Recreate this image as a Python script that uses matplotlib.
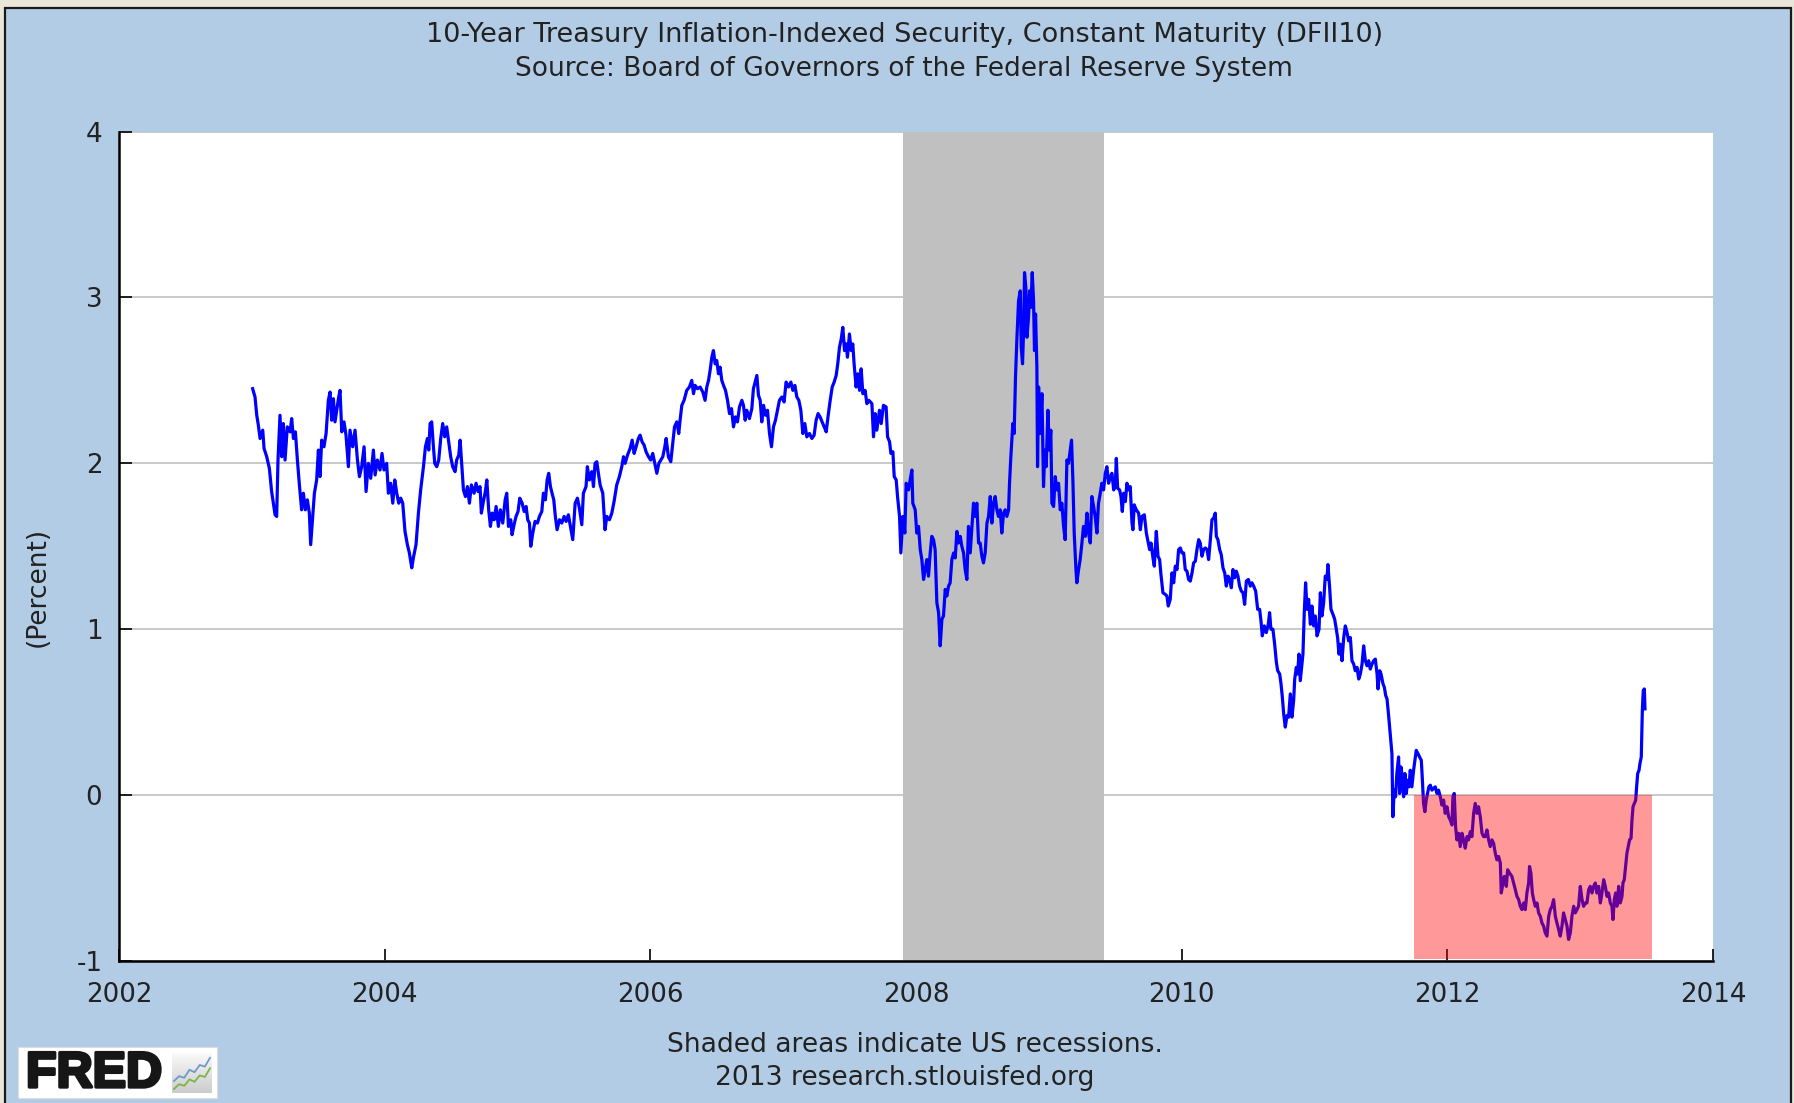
import matplotlib
matplotlib.use("Agg")
import matplotlib.pyplot as plt
import matplotlib.patheffects as pe
from matplotlib.patches import Rectangle
import numpy as np

# DFII10 (decimal year, percent)
dates_2003 = [
    2003.006, 2003.024, 2003.037, 2003.049, 2003.062, 2003.082, 2003.092, 2003.112, 2003.132, 2003.149,
    2003.162, 2003.175, 2003.187, 2003.197, 2003.212, 2003.225, 2003.237, 2003.250, 2003.267, 2003.288,
    2003.300, 2003.313, 2003.328, 2003.343, 2003.358, 2003.375, 2003.388, 2003.403, 2003.418, 2003.433,
    2003.443, 2003.458, 2003.471, 2003.488, 2003.501, 2003.513, 2003.526, 2003.543, 2003.559, 2003.576,
    2003.589, 2003.601, 2003.614, 2003.626, 2003.639, 2003.654, 2003.664, 2003.677, 2003.694, 2003.709,
    2003.727, 2003.739, 2003.759, 2003.777, 2003.795, 2003.810, 2003.827, 2003.845, 2003.860, 2003.877,
    2003.895, 2003.915, 2003.928, 2003.945, 2003.965, 2003.980, 2003.995, 2004.015, 2004.028, 2004.045,
    2004.061, 2004.076, 2004.091, 2004.106, 2004.121, 2004.136, 2004.153, 2004.171, 2004.186, 2004.204,
    2004.216, 2004.236, 2004.254, 2004.271, 2004.292, 2004.307, 2004.322, 2004.332, 2004.342, 2004.354,
    2004.367, 2004.377, 2004.392, 2004.407, 2004.422, 2004.437, 2004.452, 2004.467, 2004.482, 2004.497,
    2004.512, 2004.530, 2004.542, 2004.558, 2004.568, 2004.580, 2004.593, 2004.608, 2004.623, 2004.638,
    2004.653, 2004.673, 2004.688, 2004.703, 2004.718, 2004.728, 2004.743, 2004.758, 2004.769, 2004.783,
    2004.796, 2004.809, 2004.824, 2004.839, 2004.856, 2004.871, 2004.889, 2004.907, 2004.919, 2004.932,
    2004.949, 2004.959, 2004.974, 2004.989, 2005.004, 2005.017, 2005.035, 2005.050, 2005.065, 2005.077,
    2005.090, 2005.100, 2005.115, 2005.132, 2005.150, 2005.165, 2005.183, 2005.195, 2005.210, 2005.223,
    2005.235, 2005.248, 2005.260, 2005.273, 2005.285, 2005.298,
]
dfii10_2003 = [
    2.45, 2.40, 2.29, 2.23, 2.15, 2.20, 2.09, 2.04, 1.97, 1.83,
    1.76, 1.69, 1.68, 2.02, 2.29, 2.04, 2.24, 2.02, 2.22, 2.19,
    2.27, 2.15, 2.19, 2.02, 1.87, 1.72, 1.82, 1.72, 1.78, 1.70,
    1.51, 1.68, 1.82, 1.90, 2.08, 1.92, 2.14, 2.10, 2.18, 2.38,
    2.43, 2.26, 2.39, 2.25, 2.32, 2.40, 2.44, 2.19, 2.25, 2.17,
    1.98, 2.20, 2.10, 2.20, 2.02, 1.92, 1.98, 2.10, 1.83, 2.00,
    1.91, 2.08, 1.93, 2.02, 1.96, 2.06, 1.96, 2.00, 1.82, 1.88,
    1.76, 1.90, 1.82, 1.76, 1.79, 1.76, 1.59, 1.51, 1.46, 1.37,
    1.43, 1.51, 1.70, 1.84, 1.98, 2.10, 2.15, 2.08, 2.24, 2.25,
    2.10, 2.00, 1.98, 2.02, 2.15, 2.24, 2.16, 2.22, 2.13, 2.04,
    1.98, 1.95, 2.02, 2.05, 2.14, 2.00, 1.84, 1.80, 1.86, 1.76,
    1.87, 1.82, 1.88, 1.83, 1.86, 1.70, 1.77, 1.83, 1.90, 1.72,
    1.62, 1.70, 1.66, 1.74, 1.62, 1.72, 1.64, 1.78, 1.82, 1.62,
    1.66, 1.57, 1.63, 1.68, 1.71, 1.79, 1.76, 1.71, 1.74, 1.66,
    1.64, 1.50, 1.58, 1.65, 1.64, 1.68, 1.71, 1.82, 1.78, 1.90,
    1.94, 1.86, 1.82, 1.78, 1.68, 1.60,
]

dates_2005 = [
    2005.316, 2005.333, 2005.351, 2005.366, 2005.383, 2005.401, 2005.416, 2005.434, 2005.451, 2005.466,
    2005.484, 2005.496, 2005.516, 2005.526, 2005.541, 2005.559, 2005.572, 2005.584, 2005.597, 2005.609,
    2005.622, 2005.642, 2005.659, 2005.672, 2005.692, 2005.710, 2005.727, 2005.747, 2005.767, 2005.785,
    2005.798, 2005.810, 2005.828, 2005.848, 2005.863, 2005.878, 2005.893, 2005.910, 2005.923, 2005.938,
    2005.953, 2005.968, 2005.986, 2006.003, 2006.018, 2006.036, 2006.049, 2006.064, 2006.079, 2006.094,
    2006.109, 2006.119, 2006.136, 2006.154, 2006.169, 2006.182, 2006.199, 2006.214, 2006.224, 2006.237,
    2006.254, 2006.274, 2006.294, 2006.312, 2006.325, 2006.337, 2006.355, 2006.375, 2006.395, 2006.412,
    2006.425, 2006.438, 2006.450, 2006.463, 2006.475, 2006.488, 2006.500, 2006.513, 2006.525, 2006.538,
    2006.551, 2006.566, 2006.581, 2006.596, 2006.611, 2006.626, 2006.641, 2006.656, 2006.671, 2006.689,
    2006.701, 2006.714, 2006.726, 2006.746, 2006.764, 2006.776, 2006.789, 2006.802, 2006.814, 2006.827,
    2006.839, 2006.852, 2006.867, 2006.882, 2006.897, 2006.912, 2006.927, 2006.942, 2006.957, 2006.972,
    2006.990, 2007.007, 2007.022, 2007.040, 2007.058, 2007.073, 2007.088, 2007.103, 2007.118, 2007.133,
    2007.148, 2007.163, 2007.178, 2007.198, 2007.216, 2007.233, 2007.248, 2007.263, 2007.278, 2007.293,
    2007.309, 2007.324, 2007.339, 2007.354, 2007.369, 2007.384, 2007.399, 2007.411, 2007.424, 2007.437,
    2007.449, 2007.462, 2007.474, 2007.484, 2007.499, 2007.512, 2007.524, 2007.534, 2007.549, 2007.562,
    2007.575, 2007.587, 2007.600, 2007.617, 2007.630, 2007.645,
]
dfii10_2005 = [
    1.66, 1.64, 1.68, 1.65, 1.69, 1.61, 1.54, 1.76, 1.79, 1.73,
    1.63, 1.82, 1.86, 1.98, 1.90, 1.95, 1.86, 2.00, 2.01, 1.94,
    1.87, 1.82, 1.60, 1.68, 1.66, 1.70, 1.77, 1.87, 1.92, 1.98,
    2.04, 2.00, 2.05, 2.09, 2.14, 2.06, 2.10, 2.15, 2.17, 2.13,
    2.11, 2.07, 2.04, 2.02, 2.06, 1.99, 1.94, 2.00, 2.02, 2.04,
    2.10, 2.15, 2.04, 2.01, 2.12, 2.22, 2.25, 2.18, 2.26, 2.35,
    2.38, 2.44, 2.46, 2.50, 2.42, 2.47, 2.45, 2.46, 2.43, 2.38,
    2.46, 2.50, 2.56, 2.64, 2.68, 2.60, 2.62, 2.54, 2.58, 2.50,
    2.47, 2.44, 2.38, 2.30, 2.33, 2.22, 2.28, 2.25, 2.34, 2.38,
    2.35, 2.26, 2.32, 2.27, 2.33, 2.45, 2.49, 2.53, 2.41, 2.38,
    2.25, 2.35, 2.29, 2.32, 2.18, 2.10, 2.22, 2.26, 2.32, 2.38,
    2.40, 2.37, 2.49, 2.46, 2.49, 2.44, 2.47, 2.40, 2.38, 2.32,
    2.18, 2.24, 2.16, 2.18, 2.15, 2.17, 2.26, 2.30, 2.28, 2.25,
    2.22, 2.19, 2.29, 2.38, 2.46, 2.49, 2.53, 2.60, 2.70, 2.75,
    2.82, 2.68, 2.72, 2.64, 2.78, 2.68, 2.72, 2.60, 2.46, 2.54,
    2.44, 2.57, 2.42, 2.44, 2.36, 2.38,
]

dates_2007 = [
    2007.668, 2007.680, 2007.693, 2007.705, 2007.725, 2007.738, 2007.755, 2007.775, 2007.786, 2007.801,
    2007.811, 2007.826, 2007.836, 2007.851, 2007.861, 2007.876, 2007.886, 2007.901, 2007.916, 2007.926,
    2007.944, 2007.956, 2007.969, 2007.976, 2007.994, 2008.006, 2008.019, 2008.032, 2008.044, 2008.057,
    2008.069, 2008.082, 2008.094, 2008.107, 2008.119, 2008.132, 2008.144, 2008.157, 2008.170, 2008.182,
    2008.195, 2008.207, 2008.220, 2008.232, 2008.245, 2008.257, 2008.270, 2008.283, 2008.295, 2008.308,
    2008.320, 2008.333, 2008.345, 2008.358, 2008.370, 2008.383, 2008.395, 2008.408, 2008.421, 2008.433,
    2008.446, 2008.458, 2008.471, 2008.483, 2008.496, 2008.508, 2008.521, 2008.534, 2008.546, 2008.559,
    2008.571, 2008.584, 2008.596, 2008.609, 2008.621, 2008.634, 2008.646, 2008.659, 2008.672, 2008.684,
    2008.697, 2008.704, 2008.714, 2008.729, 2008.739, 2008.749, 2008.759, 2008.772, 2008.785, 2008.792,
    2008.802, 2008.810, 2008.817, 2008.827, 2008.835, 2008.847, 2008.855, 2008.865, 2008.875, 2008.885,
    2008.892, 2008.900, 2008.910, 2008.915, 2008.923, 2008.935, 2008.948, 2008.960, 2008.970, 2008.980,
    2008.993, 2009.003, 2009.015, 2009.023, 2009.036, 2009.048, 2009.061, 2009.073, 2009.086, 2009.098,
    2009.111, 2009.123, 2009.136, 2009.148, 2009.161, 2009.171, 2009.181, 2009.191, 2009.204, 2009.211,
    2009.224, 2009.236, 2009.249, 2009.261, 2009.274, 2009.287, 2009.299, 2009.312, 2009.324, 2009.337,
    2009.349, 2009.362, 2009.374, 2009.387, 2009.399, 2009.412, 2009.425, 2009.437, 2009.450,
]
dfii10_2007 = [
    2.36, 2.16, 2.30, 2.20, 2.32, 2.24, 2.35, 2.34, 2.16, 2.13,
    2.06, 2.07, 1.92, 1.90, 1.80, 1.68, 1.46, 1.68, 1.58, 1.88,
    1.84, 1.90, 1.96, 1.76, 1.72, 1.58, 1.62, 1.48, 1.42, 1.30,
    1.36, 1.42, 1.32, 1.46, 1.56, 1.54, 1.48, 1.16, 1.10, 0.90,
    1.06, 1.08, 1.24, 1.20, 1.26, 1.28, 1.42, 1.46, 1.43, 1.59,
    1.52, 1.56, 1.50, 1.46, 1.36, 1.30, 1.62, 1.46, 1.62, 1.76,
    1.68, 1.76, 1.52, 1.52, 1.44, 1.40, 1.46, 1.64, 1.68, 1.80,
    1.64, 1.76, 1.80, 1.72, 1.68, 1.72, 1.58, 1.70, 1.72, 1.68,
    1.72, 1.88, 2.04, 2.24, 2.18, 2.52, 2.74, 2.98, 3.04, 2.70,
    2.60, 2.80, 3.15, 3.06, 2.76, 2.88, 3.04, 2.94, 3.15, 2.98,
    2.68, 2.90, 2.58, 1.98, 2.46, 2.18, 2.42, 1.86, 2.08, 1.98,
    2.32, 2.08, 2.20, 1.76, 1.74, 1.92, 1.84, 1.88, 1.72, 1.76,
    1.62, 1.54, 2.02, 2.00, 2.08, 2.14, 1.90, 1.58, 1.36, 1.28,
    1.36, 1.42, 1.52, 1.62, 1.56, 1.70, 1.58, 1.52, 1.80, 1.74,
    1.68, 1.58, 1.76, 1.82, 1.88, 1.84, 1.94, 1.98, 1.88,
]

dates_2009 = [
    2009.463, 2009.475, 2009.488, 2009.500, 2009.508, 2009.518, 2009.533, 2009.543, 2009.553, 2009.563,
    2009.576, 2009.588, 2009.601, 2009.613, 2009.626, 2009.633, 2009.643, 2009.658, 2009.676, 2009.689,
    2009.701, 2009.719, 2009.734, 2009.744, 2009.759, 2009.769, 2009.784, 2009.794, 2009.809, 2009.822,
    2009.834, 2009.844, 2009.859, 2009.877, 2009.889, 2009.899, 2009.914, 2009.927, 2009.940, 2009.952,
    2009.965, 2009.977, 2009.990, 2010.002, 2010.015, 2010.027, 2010.040, 2010.052, 2010.065, 2010.078,
    2010.090, 2010.103, 2010.115, 2010.128, 2010.140, 2010.153, 2010.165, 2010.178, 2010.191, 2010.203,
    2010.216, 2010.228, 2010.241, 2010.253, 2010.261, 2010.273, 2010.286, 2010.298, 2010.311, 2010.324,
    2010.336, 2010.349, 2010.361, 2010.374, 2010.386, 2010.399, 2010.411, 2010.424, 2010.436, 2010.449,
    2010.462, 2010.474, 2010.487, 2010.502, 2010.517, 2010.529, 2010.542, 2010.557, 2010.572, 2010.587,
    2010.597, 2010.607, 2010.622, 2010.637, 2010.652, 2010.662, 2010.672, 2010.687, 2010.700, 2010.713,
    2010.723, 2010.738, 2010.748, 2010.758, 2010.768, 2010.780, 2010.793, 2010.805, 2010.818, 2010.830,
    2010.843, 2010.851, 2010.863, 2010.873, 2010.883, 2010.893, 2010.903, 2010.913, 2010.923, 2010.933,
    2010.944, 2010.956, 2010.969, 2010.981, 2010.994, 2011.006, 2011.019, 2011.034, 2011.044, 2011.056,
    2011.069, 2011.081, 2011.094, 2011.101, 2011.114, 2011.124, 2011.139, 2011.152, 2011.164, 2011.174,
    2011.184, 2011.194, 2011.207, 2011.220, 2011.232, 2011.245, 2011.257, 2011.270, 2011.282, 2011.295,
    2011.307, 2011.320, 2011.333, 2011.345, 2011.358, 2011.370, 2011.383, 2011.395, 2011.408, 2011.420,
    2011.433, 2011.445, 2011.458, 2011.471, 2011.478, 2011.491, 2011.501, 2011.516, 2011.526, 2011.536,
    2011.546, 2011.559, 2011.571,
]
dfii10_2009 = [
    1.92, 1.94, 1.84, 1.86, 2.03, 1.85, 1.84, 1.80, 1.71, 1.82,
    1.77, 1.88, 1.84, 1.86, 1.64, 1.60, 1.75, 1.72, 1.70, 1.60,
    1.68, 1.69, 1.58, 1.54, 1.48, 1.52, 1.43, 1.38, 1.59, 1.44,
    1.42, 1.33, 1.22, 1.21, 1.20, 1.14, 1.18, 1.34, 1.28, 1.38,
    1.36, 1.48, 1.49, 1.46, 1.46, 1.36, 1.35, 1.30, 1.29, 1.34,
    1.40, 1.41, 1.48, 1.54, 1.52, 1.44, 1.48, 1.49, 1.48, 1.42,
    1.54, 1.66, 1.67, 1.70, 1.56, 1.54, 1.48, 1.45, 1.37, 1.34,
    1.26, 1.32, 1.30, 1.25, 1.36, 1.31, 1.35, 1.32, 1.26, 1.23,
    1.22, 1.15, 1.29, 1.30, 1.26, 1.28, 1.26, 1.23, 1.12, 1.12,
    1.05, 0.96, 1.02, 0.98, 1.03, 1.10, 1.00, 1.00, 0.91, 0.80,
    0.75, 0.73, 0.67, 0.59, 0.49, 0.41, 0.48, 0.47, 0.61, 0.47,
    0.57, 0.70, 0.77, 0.73, 0.85, 0.69, 0.77, 0.85, 1.10, 1.28,
    1.12, 1.18, 1.03, 1.14, 1.02, 1.08, 0.96, 1.00, 1.22, 1.08,
    1.16, 1.32, 1.30, 1.39, 1.25, 1.12, 1.09, 1.06, 1.00, 0.95,
    0.85, 0.91, 0.81, 0.95, 1.02, 0.98, 0.93, 0.95, 0.81, 0.79,
    0.75, 0.77, 0.70, 0.73, 0.79, 0.90, 0.81, 0.78, 0.81, 0.76,
    0.79, 0.81, 0.82, 0.73, 0.64, 0.75, 0.73, 0.67, 0.65, 0.60,
    0.58, 0.47, 0.36,
]

dates_2011 = [
    2011.583, 2011.590, 2011.600, 2011.610, 2011.620, 2011.633, 2011.641, 2011.651, 2011.661, 2011.671,
    2011.681, 2011.691, 2011.701, 2011.711, 2011.721, 2011.733, 2011.746, 2011.766, 2011.779, 2011.791,
    2011.804, 2011.811, 2011.821, 2011.831, 2011.841, 2011.851, 2011.861, 2011.872, 2011.884, 2011.897,
    2011.909, 2011.922, 2011.934, 2011.947, 2011.959, 2011.972, 2011.984, 2011.997, 2012.010, 2012.022,
    2012.035, 2012.042, 2012.052, 2012.062, 2012.072, 2012.085, 2012.097, 2012.110, 2012.122, 2012.135,
    2012.148, 2012.160, 2012.173, 2012.185, 2012.198, 2012.210, 2012.223, 2012.235, 2012.248, 2012.261,
    2012.273, 2012.286, 2012.298, 2012.311, 2012.323, 2012.336, 2012.348, 2012.361, 2012.373, 2012.386,
    2012.399, 2012.406, 2012.419, 2012.429, 2012.444, 2012.454, 2012.469, 2012.486, 2012.499, 2012.512,
    2012.524, 2012.537, 2012.549, 2012.562, 2012.574, 2012.587, 2012.599, 2012.612, 2012.619, 2012.629,
    2012.640, 2012.650, 2012.662, 2012.675, 2012.687, 2012.700, 2012.712, 2012.725, 2012.737, 2012.750,
    2012.763, 2012.775, 2012.788, 2012.800, 2012.813, 2012.825, 2012.838, 2012.850, 2012.863, 2012.875,
    2012.888, 2012.901, 2012.913, 2012.926, 2012.938, 2012.951, 2012.963, 2012.976, 2012.988, 2013.001,
    2013.014, 2013.026, 2013.039, 2013.051, 2013.064, 2013.076, 2013.089, 2013.101, 2013.114, 2013.126,
    2013.139, 2013.152, 2013.164, 2013.177, 2013.189, 2013.202, 2013.214, 2013.227, 2013.239, 2013.247,
    2013.257, 2013.267, 2013.277, 2013.290, 2013.302, 2013.315, 2013.322, 2013.332, 2013.342, 2013.352,
    2013.362, 2013.372, 2013.383, 2013.390, 2013.398, 2013.408, 2013.418, 2013.425, 2013.433, 2013.443,
    2013.450, 2013.460, 2013.468, 2013.475, 2013.483, 2013.488,
]
dfii10_2011 = [
    0.25, -0.13, 0.03, -0.01, 0.13, 0.23, 0.01, 0.17, 0.11, -0.01,
    0.13, 0.01, 0.09, 0.05, 0.15, 0.05, 0.15, 0.27, 0.25, 0.23,
    0.21, 0.11, -0.05, -0.10, -0.03, 0.01, 0.05, 0.06, 0.03, 0.04,
    0.05, 0.01, 0.03, -0.01, -0.06, -0.03, -0.11, -0.07, -0.13, -0.15,
    -0.18, -0.01, 0.01, -0.19, -0.27, -0.23, -0.31, -0.23, -0.27, -0.32,
    -0.25, -0.27, -0.22, -0.25, -0.11, -0.05, -0.11, -0.07, -0.13, -0.23,
    -0.25, -0.25, -0.21, -0.27, -0.31, -0.27, -0.29, -0.35, -0.39, -0.37,
    -0.41, -0.59, -0.53, -0.49, -0.55, -0.45, -0.47, -0.49, -0.53, -0.57,
    -0.61, -0.63, -0.67, -0.69, -0.65, -0.69, -0.59, -0.53, -0.43, -0.47,
    -0.59, -0.63, -0.67, -0.65, -0.71, -0.73, -0.77, -0.79, -0.83, -0.85,
    -0.73, -0.69, -0.67, -0.63, -0.73, -0.77, -0.81, -0.85, -0.79, -0.71,
    -0.75, -0.79, -0.87, -0.83, -0.73, -0.67, -0.71, -0.69, -0.67, -0.55,
    -0.63, -0.67, -0.65, -0.65, -0.57, -0.55, -0.59, -0.55, -0.53, -0.59,
    -0.55, -0.65, -0.59, -0.51, -0.55, -0.61, -0.59, -0.65, -0.67, -0.75,
    -0.63, -0.59, -0.67, -0.55, -0.65, -0.61, -0.53, -0.51, -0.43, -0.35,
    -0.31, -0.27, -0.26, -0.15, -0.07, -0.05, -0.03, 0.05, 0.13, 0.15,
    0.19, 0.23, 0.51, 0.63, 0.64, 0.52,
]

# NBER recession (Dec 2007 - Jun 2009) and the highlighted box of negative yields
recession = (2007.90, 2009.417)
neg_box_x = (2011.75, 2013.54)
neg_box_y = (-0.985, 0.0)

year_ticks = [2002, 2004, 2006, 2008, 2010, 2012, 2014]
pct_ticks = [-1, 0, 1, 2, 3, 4]

# little chart in the FRED logo
logo_blue = [0.30, 0.42, 0.38, 0.58, 0.52, 0.70, 0.66, 0.88]
logo_green = [0.10, 0.22, 0.18, 0.34, 0.28, 0.44, 0.40, 0.62]

dates = dates_2003 + dates_2005 + dates_2007 + dates_2009 + dates_2011
dfii10 = dfii10_2003 + dfii10_2005 + dfii10_2007 + dfii10_2009 + dfii10_2011
assert len(dates) == len(dfii10)

W, H = 1794, 1103
BLUE_BG = '#b3cce5'
TXT = '#222222'
FONT = 'DejaVu Sans'
FS = 19.1

fig = plt.figure(figsize=(W / 100, H / 100), dpi=100, facecolor='#e8e7da')

# blue panel with a dark frame (behind the axes)
fig.patches.append(Rectangle((5 / W, -0.02), (1791 - 5) / W, 1.02 - 8 / H,
                             transform=fig.transFigure, facecolor=BLUE_BG,
                             edgecolor='#1a1a1a', lw=1.6, zorder=-5))

ax = fig.add_axes([119 / W, 1 - 961 / H, (1713 - 119) / W, (961 - 131.6) / H])
ax.set_zorder(2)
ax.set_facecolor('white')

ax.axvspan(recession[0], recession[1], color='#c0c0c0', lw=0, zorder=1)
ax.plot(dates, dfii10, color='#0000ff', lw=2.3, zorder=2)
ax.add_patch(Rectangle((neg_box_x[0], neg_box_y[0]), neg_box_x[1] - neg_box_x[0],
                       neg_box_y[1] - neg_box_y[0], facecolor='#ff0000', alpha=0.4,
                       lw=0, zorder=3))

ax.set_xlim(2002, 2014)
ax.set_ylim(-1, 4)
ax.set_xticks(year_ticks)
ax.set_yticks(pct_ticks)
ax.set_xticklabels([str(y) for y in year_ticks])
ax.set_yticklabels([str(p) for p in pct_ticks])

ax.set_axisbelow(True)
ax.yaxis.grid(True, color='#c0c0c0', lw=1.2)
for s in ['top', 'right']:
    ax.spines[s].set_visible(False)
for s in ['left', 'bottom']:
    ax.spines[s].set_color('black')
    ax.spines[s].set_linewidth(1.8)

ax.tick_params(direction='in', length=9, width=1.2, color='black',
               labelsize=18.8, labelcolor=TXT)
ax.tick_params(axis='y', pad=12)
ax.tick_params(axis='x', pad=15)
for lab in ax.get_xticklabels() + ax.get_yticklabels():
    lab.set_family(FONT)

fig.text(905 / W, 1 - 35 / H,
         '10-Year Treasury Inflation-Indexed Security, Constant Maturity (DFII10)',
         ha='center', va='center', fontsize=19.5, color=TXT, family=FONT)
fig.text(904 / W, 1 - 69.5 / H, 'Source: Board of Governors of the Federal Reserve System',
         ha='center', va='center', fontsize=19.0, color=TXT, family=FONT)
fig.text(38 / W, 1 - 587 / H, '(Percent)', rotation=90, ha='center', va='center',
         fontsize=FS, color=TXT, family=FONT)
fig.text(915 / W, 1 - 1045 / H, 'Shaded areas indicate US recessions.',
         ha='center', va='center', fontsize=FS, color=TXT, family=FONT)
fig.text(905 / W, 1 - 1078 / H, '2013 research.stlouisfed.org',
         ha='center', va='center', fontsize=FS, color=TXT, family=FONT)

# FRED logo
fig.patches.append(Rectangle((18 / W, 1 - 1098 / H), (217 - 18) / W, (1098 - 1047) / H,
                             transform=fig.transFigure, facecolor='white',
                             edgecolor='#dddddd', lw=0.8, zorder=1))
fig.text(26 / W, 1 - 1074 / H, 'FRED', ha='left', va='center', fontsize=36,
         fontweight='bold', color='#161616', family='Liberation Sans', zorder=3,
         path_effects=[pe.withStroke(linewidth=2.4, foreground='#161616')])
icon = fig.add_axes([172 / W, 1 - 1093 / H, 40 / W, 40 / H])
icon.set_zorder(3)
icon.imshow(np.linspace(0.97, 0.8, 20).reshape(-1, 1), cmap='gray', vmin=0, vmax=1,
            extent=(0, 1, 0, 1), aspect='auto')
xs = np.linspace(0.05, 0.95, len(logo_blue))
icon.plot(xs, logo_blue, color='#6d9bc9', lw=1.3)
icon.plot(xs, logo_green, color='#79b54a', lw=1.3)
icon.set_xlim(0, 1)
icon.set_ylim(0, 1)
icon.axis('off')

fig.savefig('out.png', dpi=100, facecolor=fig.get_facecolor())
